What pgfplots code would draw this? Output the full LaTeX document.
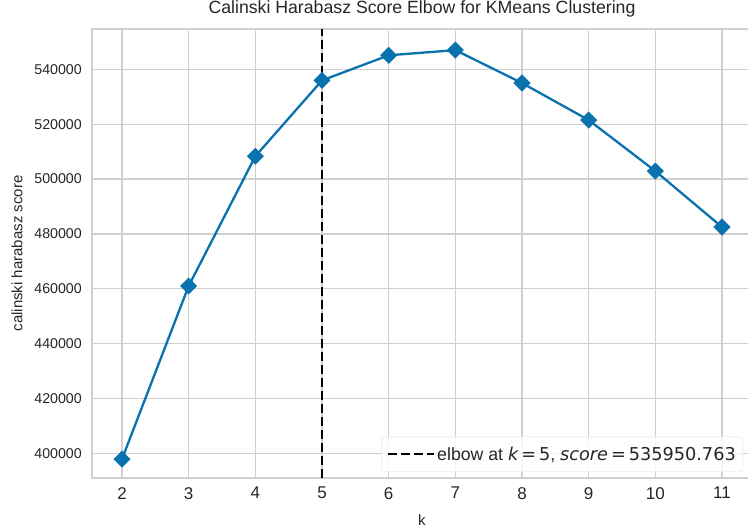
\documentclass[border=0pt]{standalone}
\usepackage{fontspec}
\setmainfont{Liberation Sans}
\newfontfamily\dejavu{DejaVu Sans}
\usepackage{pgfplots}
\pgfplotsset{compat=1.18}
\usetikzlibrary{calc}
\definecolor{ybblue}{HTML}{0A72AC}
\definecolor{gridc}{HTML}{D0D0D0}
\definecolor{txt}{HTML}{262626}
\begin{document}
\begin{tikzpicture}
\begin{axis}[
  scale only axis, width=660pt, height=449pt,
  xmin=1.55, xmax=11.45, ymin=391000, ymax=554700,
  xtick={2,...,11}, ytick={400000,420000,...,540000},
  scaled y ticks=false,
  /pgf/number format/assume math mode=true,
  /pgf/number format/fixed, /pgf/number format/1000 sep={},
  grid=major, major grid style={gridc, line width=1.3pt},
  axis line style={gridc, line width=1.3pt},
  major tick length=0pt, tick style={draw=none},
  xticklabel style={font=\fontsize{17}{20}\selectfont, text=txt, inner sep=0pt, anchor=north, yshift=-9pt},
  yticklabel style={font=\fontsize{14.2}{17}\selectfont, text=txt, inner sep=0pt, anchor=east, xshift=-10pt},
  title={Calinski Harabasz Score Elbow for KMeans Clustering},
  title style={font=\fontsize{17.7}{20}\selectfont, text=txt, at={(rel axis cs:0.5,1)}, anchor=center, yshift=14pt, inner sep=0pt},
  xlabel={k}, ylabel={calinski harabasz score},
  every axis x label/.style={at={(rel axis cs:0.5,0)}, anchor=center, yshift=-42pt, font=\fontsize{15}{17}\selectfont, text=txt, inner sep=0pt},
  every axis y label/.style={at={(rel axis cs:0,0.5)}, xshift=-75pt, rotate=90, anchor=center, font=\fontsize{15}{17}\selectfont, text=txt, inner sep=0pt},
  legend style={at={(rel axis cs:0.9864,0.0134)}, anchor=south east, draw=gridc!70, rounded corners=3pt, fill=white, fill opacity=0.8, text opacity=1, font=\fontsize{17.7}{20}\selectfont, text=txt, inner xsep=5pt, inner ysep=8pt},
  legend image code/.code={\path (0pt,0pt) -- (46pt,0pt); \draw[#1] (0pt,0pt) -- (35pt,0pt);},
]
\coordinate (SW) at (rel axis cs:0,0);
\addplot[ybblue, line width=2.3pt, mark=square*, mark size=4.9pt, mark options={rotate=45, solid}, forget plot] coordinates {
(2,397900) (3,461000) (4,508300) (5,535950.763) (6,545100) (7,547000) (8,535000) (9,521500) (10,502900) (11,482500)
};
\addplot[black, line width=2.3pt, dash pattern=on 9pt off 4pt] coordinates {(5,391000) (5,554700)};
\addlegendentry{elbow at {\dejavu\itshape k}{\dejavu\,=\,5}, {\dejavu\itshape score}{\dejavu\,=\,535950.763}}
\end{axis}
\pgfresetboundingbox
\path ($(SW)+(-92pt,-51pt)$) rectangle ($(SW)+(656pt,478pt)$);
\end{tikzpicture}
\end{document}
